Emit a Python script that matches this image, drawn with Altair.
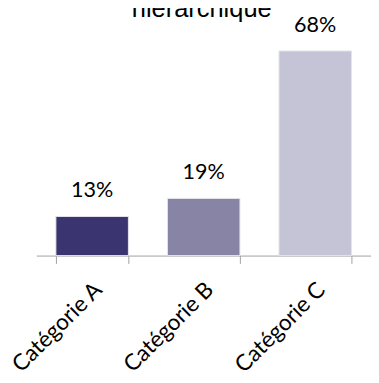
import altair as alt
import pandas as pd

categories = ["Catégorie A", "Catégorie B", "Catégorie C"]
values = [13, 19, 68]
labels = ["13%", "19%", "68%"]
colors = ["#3a3570", "#8784a6", "#c5c4d6"]
title_text = ["hiérarchique"]

df = pd.DataFrame({"cat": categories, "val": values, "lab": labels, "col": colors})

x_enc = alt.X(
    "cat:N",
    sort=categories,
    scale=alt.Scale(paddingInner=0.35, paddingOuter=0.175),
    axis=alt.Axis(
        title=None,
        labelAngle=-45,
        labelAlign="right",
        labelBaseline="middle",
        labelFont="Lato",
        labelFontSize=23,
        labelColor="#000000",
        labelPadding=23,
        labelOffset=6,
        tickBand="extent",
        tickSize=8,
        tickColor="#a0a0a0",
        domainColor="#a0a0a0",
        domainWidth=1,
        tickWidth=1,
    ),
)
y_scale = alt.Scale(domain=[0, 80])

base = alt.Chart(df)

bars = base.mark_bar(stroke="#e4e4ea", strokeWidth=1).encode(
    x=x_enc,
    y=alt.Y("val:Q", scale=y_scale, axis=None),
    color=alt.Color("col:N", scale=None),
)

texts = base.mark_text(
    font="Lato", fontSize=22, baseline="alphabetic", dy=-19.5, color="#000000"
).encode(
    x=alt.X("cat:N", sort=categories),
    y=alt.Y("val:Q", scale=y_scale),
    text="lab:N",
)

title = alt.Chart(pd.DataFrame({"t": title_text})).mark_text(
    font="Liberation Sans", fontSize=26, baseline="alphabetic", align="center", color="#000000"
).encode(
    x=alt.value(169),
    y=alt.value(2),
    text="t:N",
)

chart = (
    alt.layer(bars, texts, title)
    .properties(
        width=342,
        height=246,
        autosize=alt.AutoSizeParams(type="none"),
        padding={"left": 29, "top": 3, "right": 0, "bottom": 118},
        background="white",
    )
    .configure_view(strokeWidth=0)
)

chart.save("out.html", embed_options={"renderer": "svg", "actions": False})
